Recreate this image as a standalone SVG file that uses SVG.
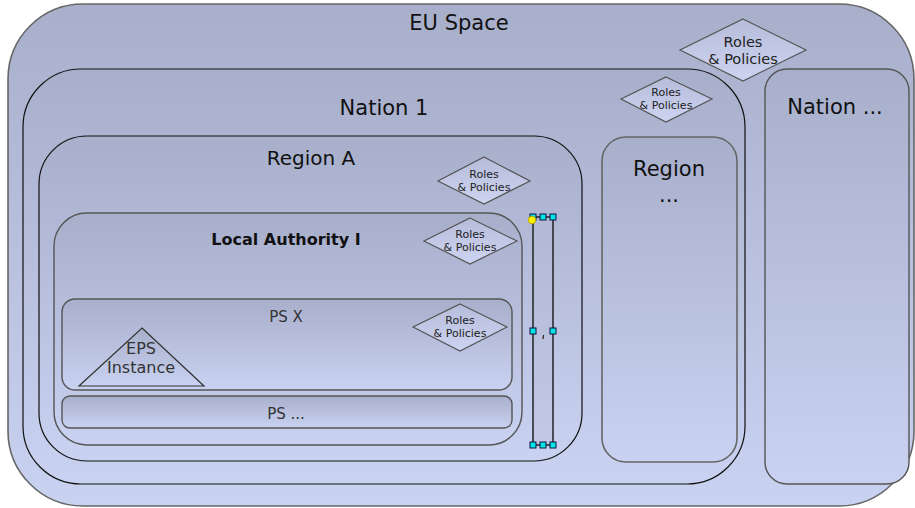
<svg xmlns="http://www.w3.org/2000/svg" width="915" height="508" viewBox="0 0 915 508">
  <defs>
    <linearGradient id="boxFill" x1="0" y1="0" x2="0" y2="1">
      <stop offset="0" stop-color="#a8afcb"/>
      <stop offset="1" stop-color="#c9d2f1"/>
    </linearGradient>
    <linearGradient id="diamondFill" x1="0" y1="0" x2="0" y2="1">
      <stop offset="0" stop-color="#b6bcd9"/>
      <stop offset="1" stop-color="#cdd4f2"/>
    </linearGradient>
    <style>
      .box { fill: url(#boxFill); stroke: #111; stroke-width: 1.2; }
      .soft { stroke: #666; stroke-width: 1.6; }
      .grey { stroke: #555; stroke-width: 1.4; }
      .diamond { fill: url(#diamondFill); stroke: #555; stroke-width: 1.2; }
      text { font-family: "DejaVu Sans", "Liberation Sans", sans-serif; text-anchor: middle; fill: #111; }
      .big { font-size: 21px; }
      .mid { font-size: 20px; }
      .bold { font-size: 16px; font-weight: bold; }
      .ps { font-size: 15px; fill: #333; }
      .eps { font-size: 16px; fill: #333; }
      .rp { font-size: 11px; fill: #222; }
      .rpBig { font-size: 14.5px; fill: #222; }
      .handle { fill: #00e5e5; stroke: #114; stroke-width: 1; }
      .sel { fill: none; stroke: #222; stroke-width: 1.5; }
    </style>
  </defs>

  <!-- Outermost scope -->
  <g id="eu-space">
    <rect class="box soft" x="8" y="4" width="906" height="502" rx="75" ry="75"/>
    <text class="big" x="459" y="30">EU Space</text>
  </g>

  <g id="nation-1">
    <rect class="box" x="23" y="69" width="722" height="415" rx="58" ry="58"/>
    <text class="big" x="384" y="115">Nation 1</text>
  </g>

  <g id="nation-more">
    <rect class="box grey" x="765" y="69" width="144" height="415" rx="22" ry="22"/>
    <text class="big" x="835" y="114">Nation ...</text>
  </g>

  <g id="roles-eu">
    <polygon class="diamond" points="743,19 806,50 743,81 680,50"/>
    <text class="rpBig" x="743" y="47">Roles</text>
    <text class="rpBig" x="743" y="64">&amp; Policies</text>
  </g>

  <g id="region-a">
    <rect class="box" x="39" y="136" width="543" height="325" rx="48" ry="48"/>
    <text class="mid" x="311" y="165">Region A</text>
  </g>

  <g id="region-more">
    <rect class="box soft" x="602" y="137" width="135" height="325" rx="24" ry="24"/>
    <text class="big" x="669" y="176">Region</text>
    <text class="big" x="669" y="202">...</text>
  </g>

  <g id="roles-nation">
    <polygon class="diamond" points="666,77 712,99 666,122 621,99"/>
    <text class="rp" x="666" y="96">Roles</text>
    <text class="rp" x="666" y="109">&amp; Policies</text>
  </g>

  <g id="local-authority">
    <rect class="box grey" x="54" y="213" width="468" height="232" rx="33" ry="33"/>
    <text class="bold" x="286" y="245">Local Authority I</text>
  </g>

  <g id="roles-region">
    <polygon class="diamond" points="484,157 530,181 484,204 438,181"/>
    <text class="rp" x="484" y="178">Roles</text>
    <text class="rp" x="484" y="191">&amp; Policies</text>
  </g>

  <g id="ps-x">
    <rect class="box grey" x="62" y="299" width="450" height="91" rx="13" ry="13"/>
    <text class="ps" x="286" y="322">PS X</text>
  </g>

  <g id="ps-more">
    <rect class="box grey" x="62" y="396" width="450" height="32" rx="8" ry="8"/>
    <text class="ps" x="286" y="419">PS ...</text>
  </g>

  <g id="roles-authority">
    <polygon class="diamond" points="470,218 517,241 470,264 424,241"/>
    <text class="rp" x="470" y="238">Roles</text>
    <text class="rp" x="470" y="251">&amp; Policies</text>
  </g>

  <g id="eps-instance">
    <polygon points="142,328 204,386 79,386" fill="url(#boxFill)" stroke="#333" stroke-width="1.2"/>
    <text class="eps" x="141" y="354">EPS</text>
    <text class="eps" x="141" y="373">Instance</text>
  </g>

  <g id="roles-ps">
    <polygon class="diamond" points="460,304 507,327 460,351 413,327"/>
    <text class="rp" x="460" y="324">Roles</text>
    <text class="rp" x="460" y="337">&amp; Policies</text>
  </g>

  <!-- Selected empty element with its resize handles -->
  <g id="selected-element">
    <rect x="533" y="217" width="20" height="228" fill="#b4bad6" fill-opacity="0.35"/>
    <line class="sel" x1="533" y1="217" x2="533" y2="445"/>
    <line class="sel" x1="553" y1="217" x2="553" y2="445"/>
    <line class="sel" x1="533" y1="217" x2="553" y2="217"/>
    <line class="sel" x1="533" y1="445" x2="553" y2="445"/>
    <path d="M543.5 335 L543 339" stroke="#321" stroke-width="1.2"/>
    <rect class="handle" x="530" y="214" width="6" height="6"/>
    <rect class="handle" x="540" y="214" width="6" height="6"/>
    <rect class="handle" x="550" y="214" width="6" height="6"/>
    <rect class="handle" x="530" y="328" width="6" height="6"/>
    <rect class="handle" x="550" y="328" width="6" height="6"/>
    <rect class="handle" x="530" y="442" width="6" height="6"/>
    <rect class="handle" x="540" y="442" width="6" height="6"/>
    <rect class="handle" x="550" y="442" width="6" height="6"/>
    <circle cx="532" cy="220" r="3.8" fill="#ffee00" stroke="#aa9900" stroke-width="0.8"/>
  </g>
</svg>
